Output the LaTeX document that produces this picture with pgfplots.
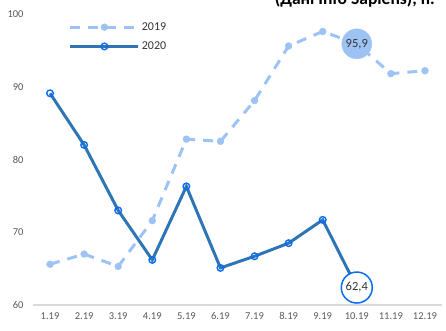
\documentclass[border=0pt]{standalone}
\usepackage{pgfplots}
\pgfplotsset{compat=1.18}
\usepackage{fontspec}
\setmainfont{Carlito}
\definecolor{c19}{HTML}{9DC3F5}
\definecolor{c20}{HTML}{2E75B6}
\definecolor{m20}{HTML}{0A6CF0}
\definecolor{tk}{HTML}{595959}
\definecolor{ax}{HTML}{D9D9D9}
\begin{document}
\begin{tikzpicture}
\begin{axis}[
  scale only axis, width=409bp, height=291bp,
  xmin=0.5, xmax=12.5, ymin=60, ymax=100,
  xtick={1,...,12},
  xticklabels={1.19,2.19,3.19,4.19,5.19,6.19,7.19,8.19,9.19,10.19,11.19,12.19},
  ytick={60,70,80,90,100},
  /pgf/number format/assume math mode=true,
  major tick length=0pt,
  axis x line*=bottom, axis y line*=left,
  axis line style={-},
  x axis line style={draw=ax, line width=1.3pt},
  y axis line style={draw=none},
  tick label style={font=\fontsize{10.5bp}{12bp}\selectfont, text=tk},
  yticklabel style={xshift=-6bp},
  xticklabel style={yshift=-4bp},
  clip=false,
  legend style={at={(rel axis cs:0.08,0.985)}, anchor=north west, draw=none, fill=none,
    font=\fontsize{12bp}{14bp}\selectfont, text=black!80, row sep=6bp,
    /tikz/every even column/.append style={column sep=3bp}},
  legend cell align=left,
  legend image code/.code={\draw[mark repeat=2,mark phase=2,#1] plot coordinates {(0bp,0bp) (34bp,0bp) (68bp,0bp)};},
]
\addplot[c19, line width=3pt, dash pattern=on 10bp off 8bp, mark=*, mark size=3.4bp,
  mark options={solid, fill=c19, draw=c19, line width=0.5pt}]
  coordinates {(1,65.6) (2,67.0) (3,65.3) (4,71.6) (5,82.8) (6,82.5) (7,88.1) (8,95.6) (9,97.6) (10,95.9) (11,91.8) (12,92.2)};
\addlegendentry{2019}
\addplot[c20, line width=3pt, mark=o, mark size=3.3bp,
  mark options={solid, fill=white, draw=m20, line width=1.4pt}]
  coordinates {(1,89.1) (2,82.0) (3,73.0) (4,66.2) (5,76.3) (6,65.1) (7,66.7) (8,68.5) (9,71.7) (10,62.4)};
\addlegendentry{2020}
\addplot[forget plot, only marks, mark=*, mark size=15bp, mark options={fill=c19, draw=c19}]
  coordinates {(10,95.9)};
\addplot[forget plot, only marks, mark=*, mark size=15.5bp, mark options={fill=white, draw=m20, line width=1.5pt}]
  coordinates {(10,62.4)};
\coordinate (l19) at (axis cs:10,95.9);
\coordinate (l20) at (axis cs:10,62.4);
\end{axis}
\node[font=\fontsize{12.5bp}{14bp}\selectfont, text=black!80] at (l19) {95,9};
\node[font=\fontsize{12.5bp}{14bp}\selectfont, text=black!80] at (l20) {62,4};
\node[anchor=base east, font=\bfseries\fontsize{17.5bp}{20bp}\selectfont, inner sep=0pt] at (402bp,300bp) {(Дані Info Sapiens), п.};
\pgfresetboundingbox
\path[use as bounding box] (-33bp,-26bp) rectangle (413bp,305bp);
\end{tikzpicture}
\end{document}
